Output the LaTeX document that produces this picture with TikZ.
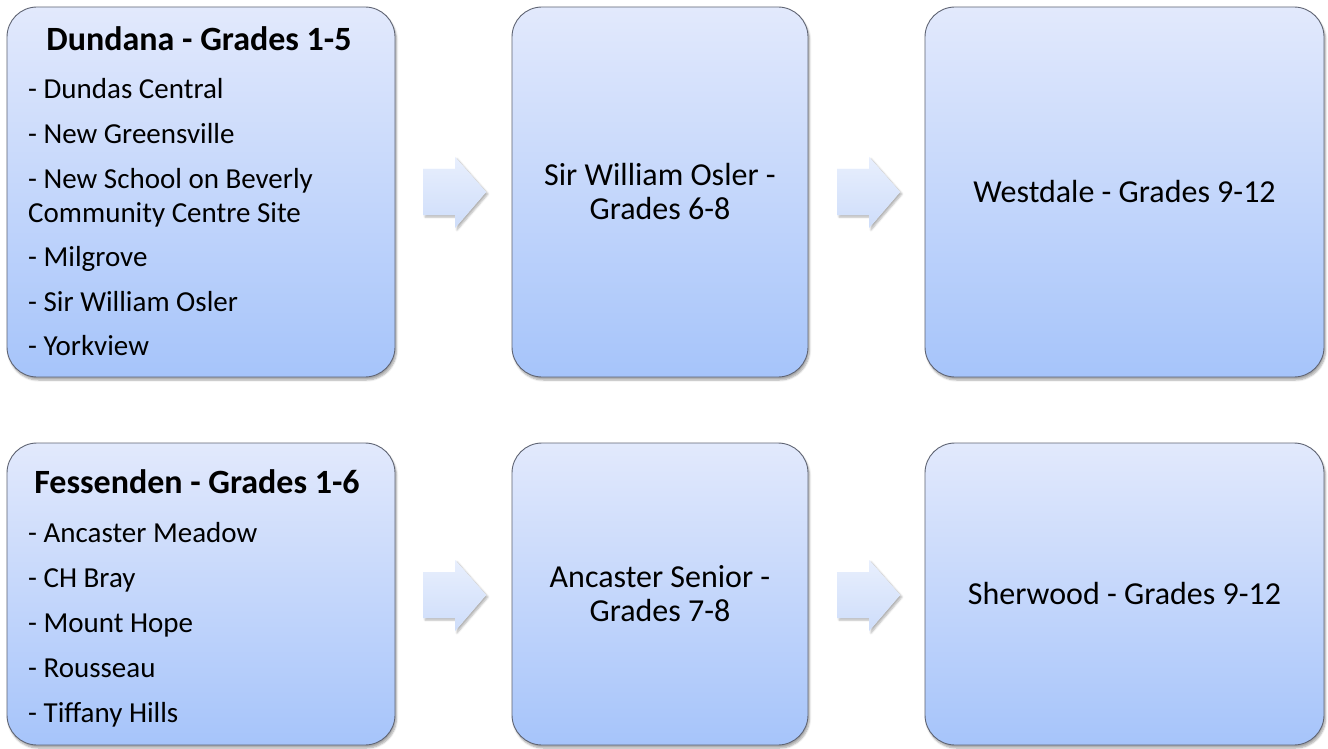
\documentclass[tikz,border=0pt]{standalone}
\usepackage{fontspec}
\setmainfont{Carlito}
\usetikzlibrary{shadows.blur}
\definecolor{boxtop}{RGB}{226,233,252}
\definecolor{boxbot}{RGB}{166,196,250}
\definecolor{boxline}{RGB}{95,100,115}
\definecolor{arrtop}{RGB}{232,239,253}
\definecolor{arrbot}{RGB}{206,221,250}
\tikzset{
  stagebox/.style={draw=boxline, line width=0.9pt, rounded corners=30pt,
    top color=boxtop, bottom color=boxbot, inner sep=0pt,
    blur shadow={shadow xshift=1.5pt, shadow yshift=-3pt, shadow blur steps=6, shadow opacity=35}},
  flowarrow/.style={fill=arrtop, draw=none, top color=arrtop, bottom color=arrbot,
    blur shadow={shadow xshift=2pt, shadow yshift=-2pt, shadow blur steps=5, shadow opacity=30}},
  titletext/.style={font=\fontsize{34}{38}\selectfont\bfseries, inner sep=0pt, anchor=base},
  itemtext/.style={font=\fontsize{29}{34}\selectfont, inner sep=0pt, anchor=base west},
  midtext/.style={font=\fontsize{32}{34}\selectfont, inner sep=0pt, align=center}
}
\begin{document}
\begin{tikzpicture}[x=1pt,y=-1pt]
\useasboundingbox (0,0) rectangle (1328,749);
% top row boxes
\node[stagebox, minimum width=388pt, minimum height=370pt] (b1) at (201,192) {};
\node[stagebox, minimum width=296pt, minimum height=370pt] (b2) at (660,192) {};
\node[stagebox, minimum width=399pt, minimum height=370pt] (b3) at (1124.5,192) {};
% bottom row boxes
\node[stagebox, minimum width=388pt, minimum height=302pt] (c1) at (201,594) {};
\node[stagebox, minimum width=296pt, minimum height=302pt] (c2) at (660,594) {};
\node[stagebox, minimum width=399pt, minimum height=302pt] (c3) at (1124.5,594) {};
% arrows
\foreach \ax/\ay/\nm in {423/192/a1, 837/192/a2, 423/595/a3, 837/595/a4}{
  \path[flowarrow] (\ax,\ay-23) -- (\ax+32,\ay-23) -- (\ax+32,\ay-35) -- (\ax+63,\ay) -- (\ax+32,\ay+36) -- (\ax+32,\ay+23) -- (\ax,\ay+23) -- cycle;
}
% top row texts
\node[titletext] (t1) at (199,51) {Dundana - Grades 1-5};
\node[itemtext] (i1) at (28,99) {- Dundas Central};
\node[itemtext] (i2) at (28,143.5) {- New Greensville};
\node[itemtext] (i3) at (28,188) {- New School on Beverly};
\node[itemtext] (i3b) at (28,222) {Community Centre Site};
\node[itemtext] (i4) at (28,266.5) {- Milgrove};
\node[itemtext] (i5) at (28,311) {- Sir William Osler};
\node[itemtext] (i6) at (28,355) {- Yorkview};
\node[midtext] (m1) at (660,192) {Sir William Osler -\\Grades 6-8};
\node[midtext] (w1) at (1124.5,192) {Westdale - Grades 9-12};
% bottom row texts
\node[titletext] (t2) at (197,493) {Fessenden - Grades 1-6};
\node[itemtext] (j1) at (28,542) {- Ancaster Meadow};
\node[itemtext] (j2) at (28,587) {- CH Bray};
\node[itemtext] (j3) at (28,632) {- Mount Hope};
\node[itemtext] (j4) at (28,677) {- Rousseau};
\node[itemtext] (j5) at (28,722) {- Tiffany Hills};
\node[midtext] (m2) at (660,594) {Ancaster Senior -\\Grades 7-8};
\node[midtext] (w2) at (1124.5,594) {Sherwood - Grades 9-12};
\end{tikzpicture}
\end{document}
